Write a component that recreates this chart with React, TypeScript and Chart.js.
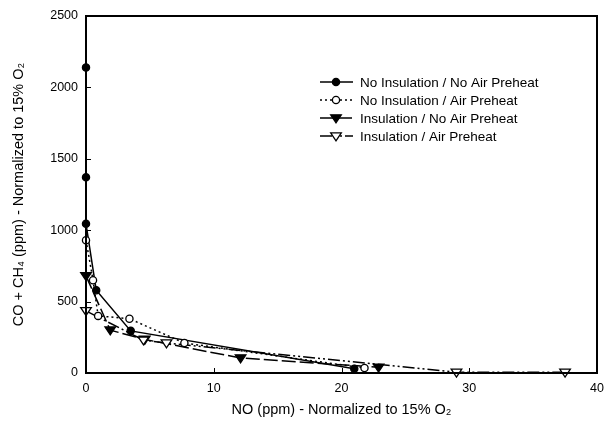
import React, { useEffect, useRef } from "react";
import { Chart, registerables } from "chart.js";

Chart.register(...registerables);

const seriesNames = [
  "No Insulation / No Air Preheat",
  "No Insulation / Air Preheat",
  "Insulation / No Air Preheat",
  "Insulation / Air Preheat",
];

const s1X = [0, 0, 0, 0.8, 3.5, 21];
const s1Y = [2140, 1370, 1045, 580, 295, 30];
const s2X = [0, 0.55, 0.95, 3.4, 7.7, 21.8];
const s2Y = [930, 650, 400, 380, 210, 35];
const s3X = [0, 1.9, 4.6, 12.1, 22.9];
const s3Y = [680, 300, 235, 105, 40];
const s4X = [0, 4.5, 6.3, 29, 37.5];
const s4Y = [435, 230, 210, 5, 5];

const xTicks = [0, 10, 20, 30, 40];
const yTicks = [0, 500, 1000, 1500, 2000, 2500];

const FONT = "Arial, 'Liberation Sans', sans-serif";

function pts(xs: number[], ys: number[]) {
  return xs.map((x, i) => ({ x, y: ys[i] }));
}

function drawMarker(ctx: CanvasRenderingContext2D, kind: string, filled: boolean, x: number, y: number) {
  ctx.save();
  ctx.beginPath();
  if (kind === "circle") {
    ctx.arc(x, y, 3.6, 0, Math.PI * 2);
  } else {
    const r = 5.3;
    ctx.moveTo(x - r, y - r * 0.6);
    ctx.lineTo(x + r, y - r * 0.6);
    ctx.lineTo(x, y + r * 0.9);
    ctx.closePath();
  }
  ctx.fillStyle = filled ? "#000" : "#fff";
  ctx.fill();
  ctx.lineWidth = 1.3;
  ctx.strokeStyle = "#000";
  ctx.setLineDash([]);
  ctx.stroke();
  ctx.restore();
}

const markerKinds = ["circle", "circle", "tri", "tri"];
const markerFilled = [true, false, true, false];
const dashes: number[][] = [[], [2, 3], [14, 4], [12, 3, 2, 3, 2, 3]];

const framePlugin = {
  id: "frame",
  afterDatasetsDraw(chart: any) {
    const { ctx, chartArea: a, scales } = chart;
    ctx.save();
    chart.data.datasets.forEach((ds: any, i: number) => {
      const meta = chart.getDatasetMeta(i);
      meta.data.forEach((el: any) => {
        drawMarker(ctx, markerKinds[i], markerFilled[i], el.x, el.y);
      });
    });
    ctx.strokeStyle = "#000";
    ctx.lineWidth = 2;
    ctx.setLineDash([]);
    ctx.strokeRect(a.left, a.top, a.right - a.left, a.bottom - a.top);
    ctx.lineWidth = 1;
    ctx.beginPath();
    xTicks.forEach((v) => {
      const px = Math.round(scales.x.getPixelForValue(v)) + 0.5;
      ctx.moveTo(px, a.bottom);
      ctx.lineTo(px, a.bottom - 5);
    });
    yTicks.forEach((v) => {
      const py = Math.round(scales.y.getPixelForValue(v)) + 0.5;
      ctx.moveTo(a.left, py);
      ctx.lineTo(a.left + 5, py);
    });
    ctx.stroke();
    const lx = 320;
    const ly0 = 82;
    const dy = 18;
    ctx.font = "13.5px " + FONT;
    ctx.textBaseline = "middle";
    ctx.fillStyle = "#000";
    seriesNames.forEach((name, i) => {
      const y = ly0 + i * dy;
      ctx.save();
      ctx.lineWidth = 1.5;
      ctx.setLineDash(dashes[i]);
      ctx.beginPath();
      ctx.moveTo(lx, y);
      ctx.lineTo(lx + 33, y);
      ctx.stroke();
      ctx.restore();
      drawMarker(ctx, markerKinds[i], markerFilled[i], lx + 16, y);
      ctx.fillText(name, lx + 40, y + 1);
    });
    ctx.restore();
  },
};

export default function App() {
  const ref = useRef<HTMLCanvasElement | null>(null);
  useEffect(() => {
    document.body.style.margin = "0";
    const series = [pts(s1X, s1Y), pts(s2X, s2Y), pts(s3X, s3Y), pts(s4X, s4Y)];
    const chart = new Chart(ref.current as HTMLCanvasElement, {
      type: "scatter",
      data: {
        datasets: series.map((d, i) => ({
          label: seriesNames[i],
          data: d,
          showLine: true,
          borderColor: "#000",
          backgroundColor: "#000",
          borderWidth: 1.5,
          borderDash: dashes[i],
          pointRadius: 0,
          pointHoverRadius: 0,
          clip: false as any,
          tension: 0,
        })),
      },
      options: {
        animation: false,
        responsive: false,
        events: [],
        layout: { padding: { top: 16, right: 15, left: 0, bottom: 0 } },
        plugins: { legend: { display: false }, tooltip: { enabled: false } },
        scales: {
          x: {
            type: "linear",
            min: 0,
            max: 40,
            afterFit: (s: any) => {
              s.height = 56;
            },
            afterBuildTicks: (s: any) => {
              s.ticks = xTicks.map((v) => ({ value: v }));
            },
            grid: { display: false, drawTicks: false },
            border: { display: false },
            ticks: {
              color: "#000",
              font: { family: FONT, size: 12.5 },
              padding: 8,
              maxRotation: 0,
              callback: (v: any) => String(v),
            },
            title: {
              display: true,
              text: "NO (ppm) - Normalized to 15% O\u2082",
              color: "#000",
              font: { family: FONT, size: 14.5 },
              padding: { top: 0, bottom: 10 },
            },
          },
          y: {
            type: "linear",
            min: 0,
            max: 2500,
            afterFit: (s: any) => {
              s.width = 86;
            },
            afterBuildTicks: (s: any) => {
              s.ticks = yTicks.map((v) => ({ value: v }));
            },
            grid: { display: false, drawTicks: false },
            border: { display: false },
            ticks: {
              color: "#000",
              font: { family: FONT, size: 12.5 },
              padding: 8,
              callback: (v: any) => String(v),
            },
            title: {
              display: true,
              text: "CO + CH\u2084 (ppm) - Normalized to 15% O\u2082",
              color: "#000",
              font: { family: FONT, size: 14.5 },
              padding: { top: 10, bottom: 0 },
            },
          },
        },
      },
      plugins: [framePlugin],
    } as any);
    return () => chart.destroy();
  }, []);
  return (
    <div style={{ position: "absolute", left: 0, top: 0, width: 612, height: 429, background: "#fff" }}>
      <canvas ref={ref} width={612} height={429} />
    </div>
  );
}
